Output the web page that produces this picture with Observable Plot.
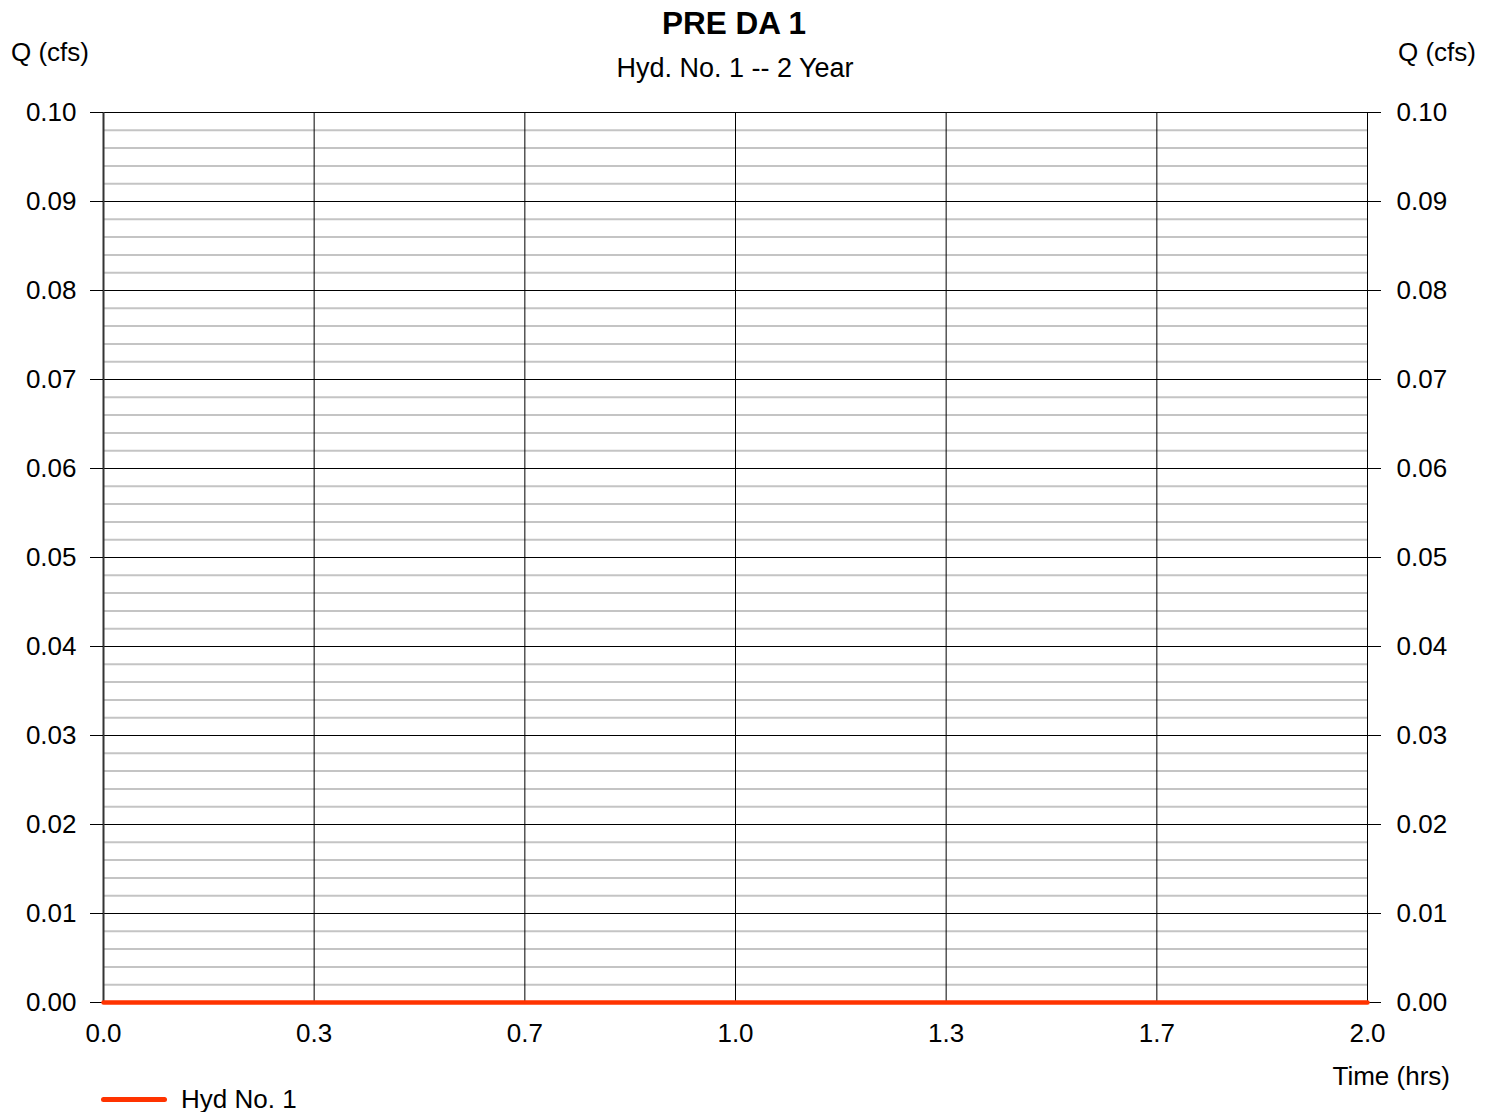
<!DOCTYPE html>
<html>
<head>
<meta charset="utf-8">
<script src="https://cdn.jsdelivr.net/npm/d3@7"></script>
<script src="https://cdn.jsdelivr.net/npm/@observablehq/plot@0.6"></script>
<style>
  html, body { margin: 0; padding: 0; background: #fff; overflow: hidden; }
  body { font-family: "Liberation Sans", Arial, sans-serif; color: #000; }
  .wrap { position: relative; width: 1491px; height: 1112px; }
  .t { position: absolute; line-height: 1; white-space: nowrap; }
  #header { position: absolute; left: 0; top: 0; width: 1491px; height: 90px; }
  #chart { position: absolute; left: 0; top: 90px; }
  #footer { position: absolute; left: 0; top: 1060px; width: 1491px; height: 52px; }
</style>
</head>
<body>
<div class="wrap">
  <div id="header">
    <div class="t" style="left:734px; transform:translateX(-50%); top:8px; font-size:31.5px; font-weight:bold;">PRE DA 1</div>
    <div class="t" style="left:735px; transform:translateX(-50%); top:55px; font-size:27px;">Hyd. No. 1 -- 2 Year</div>
    <div class="t" style="left:11px; top:39px; font-size:26px;">Q (cfs)</div>
    <div class="t" style="right:15px; top:39px; font-size:26px;">Q (cfs)</div>
  </div>
  <div id="chart"></div>
  <div id="footer">
    <div class="t" style="right:41px; top:3px; font-size:26px;">Time (hrs)</div>
    <div style="position:absolute; left:101px; top:37px; width:66px; height:5px; background:#ff3300; border-radius:3px;"></div>
    <div class="t" style="left:181px; top:26px; font-size:26px;">Hyd No. 1</div>
  </div>
</div>
<script>
// Data
const timeHrs = [0.0, 0.5, 1.0, 1.5, 2.0];
const flowCfs = [0.0, 0.0, 0.0, 0.0, 0.0];
const xTicks = [0, 0.3333, 0.6667, 1, 1.3333, 1.6667, 2];
const xTickLabels = ["0.0", "0.3", "0.7", "1.0", "1.3", "1.7", "2.0"];
const yMajorTicks = [0.00, 0.01, 0.02, 0.03, 0.04, 0.05, 0.06, 0.07, 0.08, 0.09, 0.10];

const series = timeHrs.map((t, i) => ({t, q: flowCfs[i]}));
const yMinor = d3.range(0, 0.1001, 0.002).filter(v => Math.abs(v * 100 - Math.round(v * 100)) > 1e-6);

const chart = Plot.plot({
  width: 1491,
  height: 970,
  marginLeft: 103,
  marginRight: 124,
  marginTop: 22,
  marginBottom: 58,
  style: {fontSize: "26px", fontFamily: "'Liberation Sans', Arial, sans-serif", color: "#000", background: "transparent"},
  x: {domain: [0, 2]},
  y: {domain: [0, 0.1]},
  marks: [
    Plot.ruleY(yMinor, {stroke: "#c4c4c4", strokeWidth: 2}),
    Plot.ruleY(yMajorTicks, {stroke: "#000", strokeWidth: 1}),
    Plot.ruleX(xTicks, {stroke: "#000", strokeWidth: 1}),
    Plot.ruleX([0], {stroke: "#333", strokeWidth: 2}),
    Plot.axisY({anchor: "left", ticks: yMajorTicks, tickFormat: d3.format(".2f"), tickSize: 13, tickPadding: 14, label: null}),
    Plot.axisY({anchor: "right", ticks: yMajorTicks, tickFormat: d3.format(".2f"), tickSize: 13, tickPadding: 16, label: null}),
    Plot.axisX({ticks: xTicks, tickFormat: d => xTickLabels[xTicks.indexOf(d)], tickSize: 0, tickPadding: 21, label: null}),
    Plot.line(series, {x: "t", y: "q", stroke: "#ff3300", strokeWidth: 4.5})
  ]
});
document.getElementById("chart").appendChild(chart);
</script>
</body>
</html>
